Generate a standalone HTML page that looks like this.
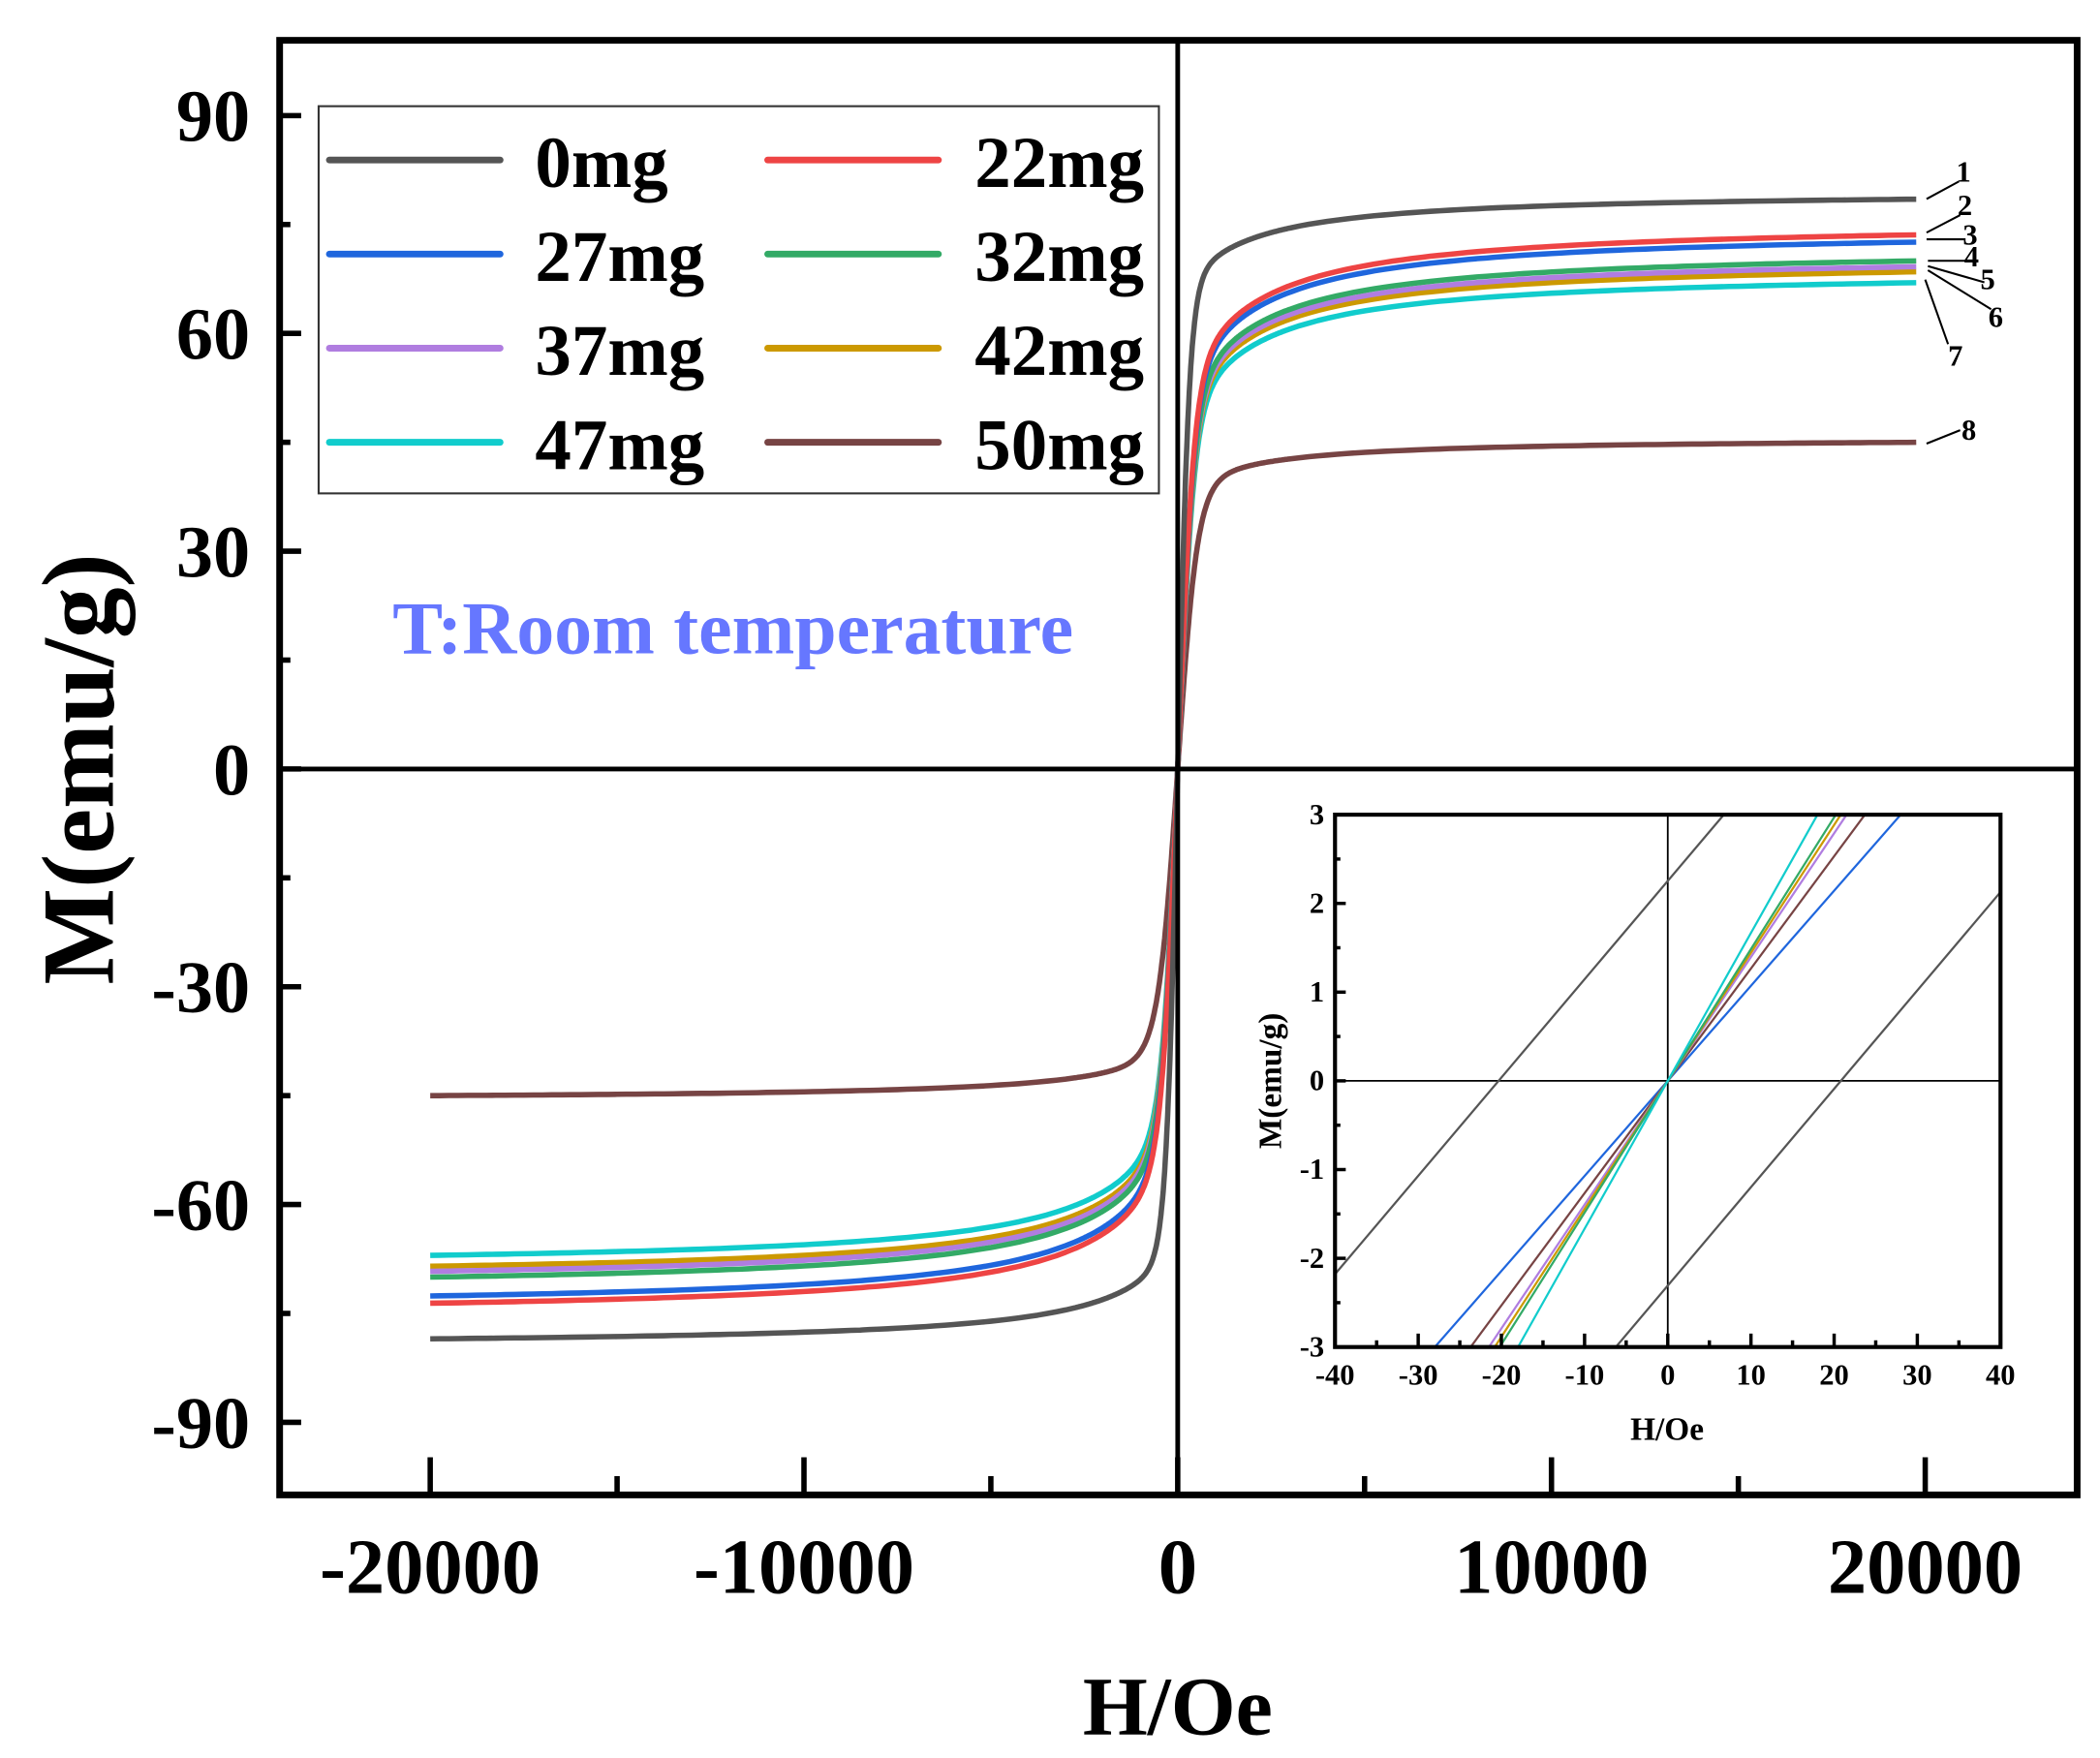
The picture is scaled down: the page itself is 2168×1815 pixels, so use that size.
<!DOCTYPE html>
<html><head><meta charset="utf-8"><style>
html,body{margin:0;padding:0;background:#fff;}
svg{display:block;}
text{font-family:"Liberation Serif",serif;font-weight:bold;fill:#000;}
</style></head><body>
<svg id="s" width="2168" height="1815" viewBox="0 0 1562 1307.7" preserveAspectRatio="none" xmlns="http://www.w3.org/2000/svg">
<rect x="0" y="0" width="1562" height="1308" fill="#fff"/>
<defs>
<clipPath id="ic"><rect x="993" y="606" width="495" height="396"/></clipPath>
</defs>
<g id="curves" fill="none" stroke-width="4" stroke-linejoin="round"></g>
<line x1="876" y1="30" x2="876" y2="1112" stroke="#000" stroke-width="3.5"/>
<line x1="208" y1="572" x2="1545" y2="572" stroke="#000" stroke-width="3.5"/>
<rect x="208" y="30" width="1337" height="1082" fill="none" stroke="#000" stroke-width="5"/>
<g id="ticks" stroke="#000" stroke-width="4"></g>
<g font-size="55" text-anchor="end">
<text x="186" y="105">90</text>
<text x="186" y="267">60</text>
<text x="186" y="429">30</text>
<text x="186" y="591">0</text>
<text x="186" y="753">-30</text>
<text x="186" y="915">-60</text>
<text x="186" y="1077">-90</text>
</g>
<g font-size="58" text-anchor="middle">
<text x="320" y="1185">-20000</text>
<text x="598" y="1185">-10000</text>
<text x="876" y="1185">0</text>
<text x="1154" y="1185">10000</text>
<text x="1432" y="1185">20000</text>
</g>
<text x="876" y="1290" font-size="62" text-anchor="middle">H/Oe</text>
<text transform="translate(84,572) rotate(-90)" font-size="76" text-anchor="middle">M(emu/g)</text>
<text x="292" y="486" font-size="56" style="fill:#6677ff">T:Room temperature</text>
<rect x="237" y="79" width="625" height="288" fill="#fff" stroke="#333" stroke-width="1.5"/>
<g stroke-width="5" stroke-linecap="round">
<line x1="245" y1="119" x2="372" y2="119" stroke="#555"/>
<line x1="571" y1="119" x2="698" y2="119" stroke="#ee4444"/>
<line x1="245" y1="189" x2="372" y2="189" stroke="#1f66dd"/>
<line x1="571" y1="189" x2="698" y2="189" stroke="#33aa66"/>
<line x1="245" y1="259" x2="372" y2="259" stroke="#b07de0"/>
<line x1="571" y1="259" x2="698" y2="259" stroke="#cc9900"/>
<line x1="245" y1="329" x2="372" y2="329" stroke="#11cccc"/>
<line x1="571" y1="329" x2="698" y2="329" stroke="#774444"/>
</g>
<g font-size="54">
<text x="398" y="139">0mg</text><text x="725" y="139">22mg</text>
<text x="398" y="209">27mg</text><text x="725" y="209">32mg</text>
<text x="398" y="279">37mg</text><text x="725" y="279">42mg</text>
<text x="398" y="349">47mg</text><text x="725" y="349">50mg</text>
</g>
<g stroke="#000" stroke-width="1.5">
<line x1="1433" y1="148" x2="1457" y2="135"/>
<line x1="1433" y1="173" x2="1458" y2="160"/>
<line x1="1433" y1="178" x2="1462" y2="178"/>
<line x1="1434" y1="194" x2="1462" y2="194"/>
<line x1="1434" y1="198" x2="1476" y2="210"/>
<line x1="1434" y1="201" x2="1481" y2="230"/>
<line x1="1432" y1="208" x2="1449" y2="256"/>
<line x1="1433" y1="330" x2="1458" y2="320"/>
</g>
<g font-size="22">
<text x="1455" y="135">1</text>
<text x="1456" y="160">2</text>
<text x="1460" y="182">3</text>
<text x="1461" y="198">4</text>
<text x="1473" y="215">5</text>
<text x="1479" y="243">6</text>
<text x="1449" y="272">7</text>
<text x="1459" y="327">8</text>
</g>
<rect x="993" y="606" width="495" height="396" fill="#fff"/>
<line x1="1240.5" y1="606" x2="1240.5" y2="1002" stroke="#000" stroke-width="1.3"/>
<line x1="993" y1="804" x2="1488" y2="804" stroke="#000" stroke-width="1.3"/>
<g id="inset" clip-path="url(#ic)" fill="none" stroke-width="1.6"></g>
<rect x="993" y="606" width="495" height="396" fill="none" stroke="#000" stroke-width="3"/>
<g id="iticks" stroke="#000" stroke-width="2.5"></g>
<g font-size="22" text-anchor="end">
<text x="985" y="613">3</text><text x="985" y="679">2</text><text x="985" y="745">1</text>
<text x="985" y="811">0</text><text x="985" y="877">-1</text><text x="985" y="943">-2</text>
<text x="985" y="1009">-3</text>
</g>
<g font-size="22" text-anchor="middle" id="ixl"></g>
<text x="1240" y="1071" font-size="24" text-anchor="middle">H/Oe</text>
<text transform="translate(953,804) rotate(-90)" font-size="24" text-anchor="middle">M(emu/g)</text>
</svg>
<script>
var NS="http://www.w3.org/2000/svg";
function el(p,t,a){var e=document.createElementNS(NS,t);for(var k in a)e.setAttribute(k,a[k]);p.appendChild(e);return e;}
var X=function(h){return 876+h*0.0278;}, Y=function(m){return 572-m*5.4;};
// color, Ms, h0, b
var series=[
["#774444",45,500,0.19],["#11cccc",67,400,0.353],["#cc9900",68.5,400,0.353],["#b07de0",69.2,400,0.353],["#33aa66",70,400,0.353],["#1f66dd",72.6,400,0.353],["#ee4444",73.6,400,0.353],["#555555",78.5,300,0.19]];
function f(h,h0,b){var s=h<0?-1:1,a=Math.abs(h),h1=1500;
 var v=Math.tanh(a/h0)*(1-b*h1/(a+h1));var n=1-b*h1/(20000+h1);return s*v/n;}
var g=document.getElementById("curves");
series.forEach(function(S){var d="",hs=[];
 for(var h=-20000;h<=20000;h+=(Math.abs(h)<3000?20:250))hs.push(h);
 hs.forEach(function(h,i){d+=(i?"L":"M")+X(h).toFixed(1)+" "+Y(S[1]*f(h,S[2],S[3])).toFixed(1);});
 el(g,"path",{d:d,stroke:S[0]});});
var t=document.getElementById("ticks");
for(var m=-90;m<=90;m+=15){var L=(m%30==0)?16:8;el(t,"line",{x1:208,y1:Y(m),x2:208+L,y2:Y(m)});}
for(var h=-20000;h<=20000;h+=5000){var L=(h%10000==0)?28:14;el(t,"line",{x1:X(h),y1:1112,x2:X(h),y2:1112-L});}
var ix=function(h){return 1240.5+h*6.1875;}, iy=function(m){return 804-m*66;};
var ig=document.getElementById("inset");
function ln(c,h1,m1,h2,m2){el(ig,"line",{x1:ix(h1),y1:iy(m1),x2:ix(h2),y2:iy(m2),stroke:c});}
var sl=3/21.5;
ln("#555",-41,-2.15-sl*1,8,3+sl*1);
ln("#555",-7.5,-3-sl*1,41,2.1+sl*1);
[["#1f66dd",28],["#774444",23.7],["#b07de0",21.5],["#cc9900",20.8],["#33aa66",20.2],["#11cccc",18]].forEach(function(c){
 ln(c[0],-c[1]*1.1,-3.3,c[1]*1.1,3.3);});
var it=document.getElementById("iticks");
for(var m=-3;m<=3;m+=0.5){var L=(m%1==0)?8:4;el(it,"line",{x1:993,y1:iy(m),x2:993+L,y2:iy(m)});}
var xl=document.getElementById("ixl");
for(var h=-40;h<=40;h+=5){var L=(h%10==0)?10:5;el(it,"line",{x1:ix(h),y1:1002,x2:ix(h),y2:1002-L});
 if(h%10==0){var tx=el(xl,"text",{x:ix(h),y:1030});tx.textContent=String(h);}}
</script>
</body></html>
